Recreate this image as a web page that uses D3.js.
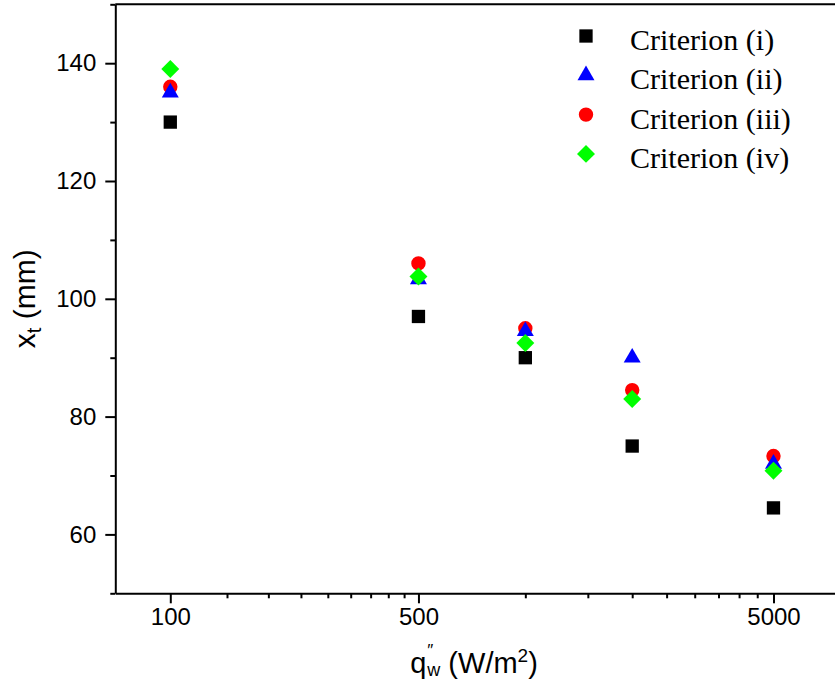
<!DOCTYPE html>
<html>
<head>
<meta charset="utf-8">
<script src="https://cdn.jsdelivr.net/npm/d3@7"></script>
<style>
  html, body { margin: 0; padding: 0; background: #fff; }
  svg { display: block; }
</style>
</head>
<body>
<div id="chart"></div>
<script>
// Heat flux values (W/m^2)
const heatFlux = [100, 500, 1000, 2000, 5000];

// Transition location x_t (mm) for each criterion
const criterionI   = [130, 97, 90, 75, 64.5];
const criterionII  = [135, 103.3, 94.5, 90, 72];
const criterionIII = [136, 106, 95, 84.5, 73.3];
const criterionIV  = [139, 103.8, 92.5, 83, 70.8];

// Axis ticks
const xMajorTicks = [100, 500, 5000];
const yMajorTicks = [60, 80, 100, 120, 140];
const yMinorTicks = [50, 70, 90, 110, 130, 150];

const seriesNames = ["Criterion (i)", "Criterion (ii)", "Criterion (iii)", "Criterion (iv)"];

const W = 835, H = 687;
const plotLeft = 115.3, plotRight = 836, plotTop = 4.3, plotBottom = 593.3;

const svg = d3.select("#chart").append("svg")
  .attr("width", W).attr("height", H);

const x = d3.scaleLog().domain([70, 7500]).range([plotLeft, plotRight]);
const y = d3.scaleLinear().domain([50, 150]).range([plotBottom, plotTop]);

// x minor ticks: eight linear subdivisions between successive major ticks
const xMinorTicks = [];
for (let i = 0; i < xMajorTicks.length - 1; i++) {
  const a = xMajorTicks[i], b = xMajorTicks[i + 1], step = (b - a) / 9;
  for (let k = 1; k < 9; k++) xMinorTicks.push(a + k * step);
}

const sansFont = "'Liberation Sans', Arial, sans-serif";

function styleAxis(g) {
  g.selectAll("path.domain").attr("stroke", "#000").attr("stroke-width", 2);
  g.selectAll(".tick line").attr("stroke", "#000").attr("stroke-width", 2);
  g.selectAll(".tick text")
    .attr("fill", "#000")
    .style("font-family", sansFont)
    .style("font-size", "24px");
}

// Minor ticks
svg.append("g")
  .attr("transform", `translate(0,${plotBottom})`)
  .call(d3.axisBottom(x).tickValues(xMinorTicks).tickSize(5).tickSizeOuter(0).tickFormat(""))
  .call(styleAxis)
  .call(g => g.select("path.domain").remove());
svg.append("g")
  .attr("transform", `translate(${plotLeft},0)`)
  .call(d3.axisLeft(y).tickValues(yMinorTicks).tickSize(5).tickSizeOuter(0).tickFormat(""))
  .call(styleAxis)
  .call(g => g.select("path.domain").remove());

// Major axes
svg.append("g")
  .attr("transform", `translate(0,${plotBottom})`)
  .call(d3.axisBottom(x).tickValues(xMajorTicks).tickSize(10).tickSizeOuter(0)
    .tickPadding(5).tickFormat(d3.format("d")))
  .call(styleAxis);
svg.append("g")
  .attr("transform", `translate(${plotLeft},0)`)
  .call(d3.axisLeft(y).tickValues(yMajorTicks).tickSize(10).tickSizeOuter(0)
    .tickPadding(9).tickFormat(d3.format("d")))
  .call(styleAxis);

// Top and right frame
svg.append("path")
  .attr("d", `M${plotLeft},${plotTop}H${plotRight}V${plotBottom}`)
  .attr("fill", "none").attr("stroke", "#000").attr("stroke-width", 2);

// Axis titles
const yTitle = svg.append("text")
  .attr("transform", `translate(35,${(plotTop + plotBottom) / 2}) rotate(-90)`)
  .attr("text-anchor", "middle")
  .style("font-family", sansFont).style("font-size", "30px").attr("fill", "#000");
yTitle.append("tspan").text("x");
yTitle.append("tspan").text("t").style("font-size", "20px").attr("dy", 6);
yTitle.append("tspan").text(" (mm)").attr("dy", -6);

const xTitle = svg.append("text")
  .attr("x", 474).attr("y", 673)
  .attr("text-anchor", "middle")
  .style("font-family", sansFont).style("font-size", "29px").attr("fill", "#000");
xTitle.append("tspan").text("q");
xTitle.append("tspan").text("\u2033").style("font-size", "17px").attr("dy", -17).attr("dx", 1);
xTitle.append("tspan").text("w").style("font-size", "18px").attr("dy", 20).attr("dx", -6);
xTitle.append("tspan").text(" (W/m").attr("dy", -3);
xTitle.append("tspan").text("2").style("font-size", "19px").attr("dy", -11);
xTitle.append("tspan").text(")").attr("dy", 11);

// Marker definitions
const markers = [
  { name: seriesNames[0], values: criterionI,   color: "#000000", type: d3.symbolSquare,   size: 177, rot: 0 },
  { name: seriesNames[1], values: criterionII,  color: "#0000ff", type: d3.symbolTriangle, size: 125, rot: 0 },
  { name: seriesNames[2], values: criterionIII, color: "#ff0000", type: d3.symbolCircle,   size: 163, rot: 0 },
  { name: seriesNames[3], values: criterionIV,  color: "#00ff00", type: d3.symbolSquare,   size: 161, rot: 45 }
];

// Draw order: squares, circles, triangles, diamonds
const drawOrder = [0, 2, 1, 3];
drawOrder.forEach(i => {
  const m = markers[i];
  svg.append("g").selectAll("path")
    .data(heatFlux.map((q, j) => ({ q, v: m.values[j] })))
    .join("path")
    .attr("d", d3.symbol().type(m.type).size(m.size))
    .attr("transform", d => `translate(${x(d.q)},${y(d.v)}) rotate(${m.rot})`)
    .attr("fill", m.color);
});

// Legend
const legend = svg.append("g");
markers.forEach((m, i) => {
  const cy = 36 + i * 39.3;
  legend.append("path")
    .attr("d", d3.symbol().type(m.type).size(m.size))
    .attr("transform", `translate(586,${cy}) rotate(${m.rot})`)
    .attr("fill", m.color);
  legend.append("text")
    .attr("x", 630).attr("y", cy + 14)
    .style("font-family", "'Liberation Serif', 'Times New Roman', serif")
    .style("font-size", "30px").attr("fill", "#000")
    .text(m.name);
});
</script>
</body>
</html>
